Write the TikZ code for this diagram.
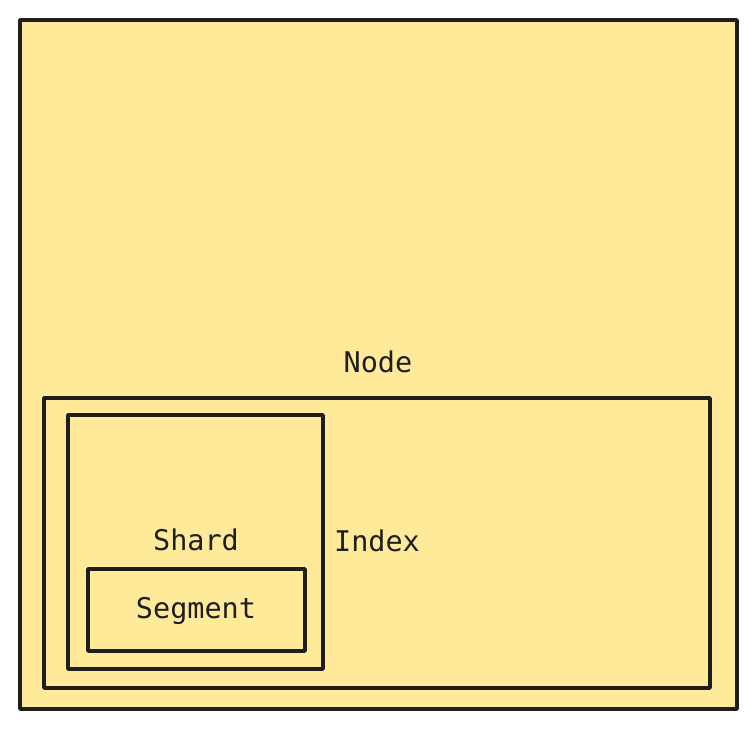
\documentclass[tikz,border=0pt]{standalone}
\usepackage{fontspec}
\setmonofont{DejaVu Sans Mono}
\definecolor{boxfill}{HTML}{FFEA99}
\definecolor{ink}{HTML}{1E1E1E}
\begin{document}
\begin{tikzpicture}[x=1pt,y=-1pt,
  box/.style={draw=ink,line width=3.5pt,line join=round},
  lbl/.style={font=\ttfamily\fontsize{28.5}{32}\selectfont,text=ink,inner sep=0pt,anchor=base}]
\useasboundingbox (0,0) rectangle (756,729);
\draw[box,fill=boxfill] (20,20) rectangle (737,709);
\draw[box] (44,398) rectangle (710,688);
\draw[box] (68,415) rectangle (323,669);
\draw[box] (88,569) rectangle (305,651);
\node[lbl] (nodelbl) at (378,372) {Node};
\node[lbl] (indexlbl) at (377,551) {Index};
\node[lbl] (shardlbl) at (196,550) {Shard};
\node[lbl] (seglbl) at (196,618) {Segment};
\end{tikzpicture}
\end{document}
